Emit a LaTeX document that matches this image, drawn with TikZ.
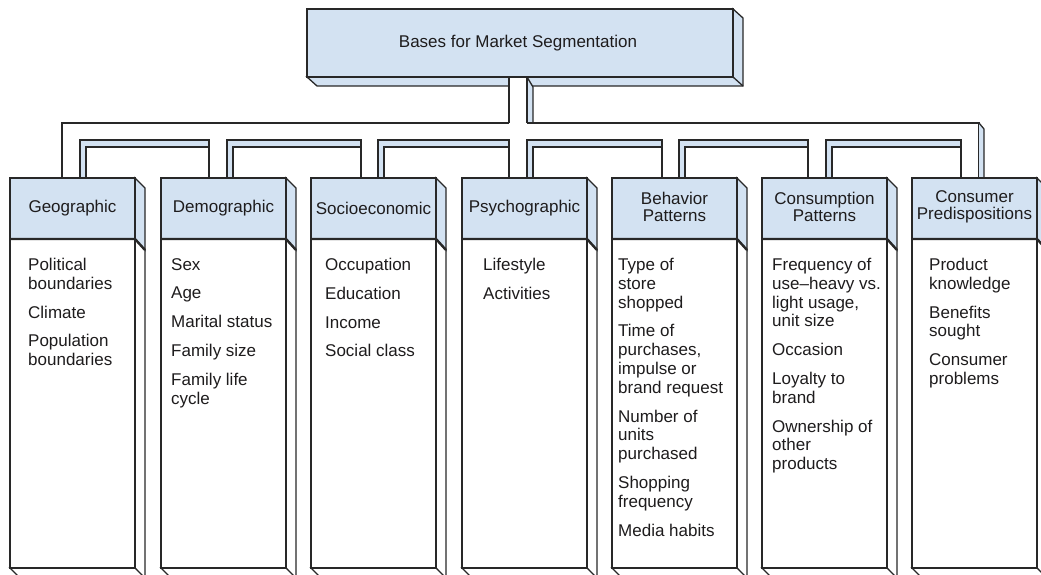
\documentclass[tikz,border=0pt]{standalone}
\usepackage{fontspec}
\setmainfont{Liberation Sans}
\definecolor{hb}{RGB}{211,226,242}
\definecolor{ln}{RGB}{40,40,40}
\definecolor{tx}{RGB}{30,28,29}
\begin{document}
\begin{tikzpicture}[x=1pt,y=-1pt,line join=miter,
  edge/.style={draw=ln,line width=1.3pt},
  sep/.style={draw=ln,line width=2.4pt},
  hdr/.style={align=center,inner sep=0pt,text=tx,font=\fontsize{17pt}{17pt}\selectfont},
  body/.style={anchor=north west,align=left,inner sep=0pt,text=tx,font=\fontsize{17pt}{18.8pt}\selectfont}]
\useasboundingbox (0,0) rectangle (1041,575);
\clip (0,0) rectangle (1041,575);
% top box: faces
\filldraw[fill=hb,edge] (307,77)--(317,86)--(743,86)--(743,18)--(733,9)--(733,77)--cycle;
\draw[edge] (733,77)--(743,86);
% stem
\fill[white] (509,77) rectangle (527,123);
\fill[hb] (527,77)--(533,87)--(533,123)--(527,123)--cycle;
\draw[edge] (509,77)--(509,123);
\draw[edge] (527,77)--(527,123);
\draw[edge] (527,77)--(533,87)--(533,123);
% top box front
\filldraw[fill=hb,edge] (307,9) rectangle (733,77);
\node[hdr] (root) at (518,43) {Bases for Market Segmentation};
% outer frame
\draw[edge] (62,178)--(62,123)--(509,123);
\draw[edge] (527,123)--(979,123)--(979,178);
\filldraw[fill=hb,edge] (979,123)--(984,129)--(984,178)--(979,178);
% arches
\foreach \a/\b in {80/209,227/361,378/509,527/662,679/808,826/961}{
  \fill[hb] (\a,178)--(\a,140)--(\b,140)--(\b,147)--(\a+6,147)--(\a+6,178)--cycle;
  \draw[edge] (\a,178)--(\a,140)--(\b,140)--(\b,178);
  \draw[edge] (\a+6,178)--(\a+6,147)--(\b,147);
}
% boxes
\foreach \L in {10,161,311,462,612,762,912}{
  \pgfmathsetmacro\R{\L+125}
  \filldraw[fill=hb,edge] (\R,178)--(\R+10,188)--(\R+10,250)--(\R,239)--cycle;
  \filldraw[fill=white,edge] (\R,239)--(\R+10,250)--(\R+10,580)--(\R,568)--cycle;
  \filldraw[fill=white,edge] (\L,568)--(\R,568)--(\R+10,578)--(\L+10,578)--cycle;
  \filldraw[fill=hb,edge] (\L,178) rectangle (\R,239);
  \filldraw[fill=white,edge] (\L,239) rectangle (\R,568);
  \draw[sep] (\L,239)--(\R,239)--(\R+10,250);
}
% headers
\node[hdr] (h1) at (72.5,208) {Geographic};
\node[hdr] (h2) at (223.5,208) {Demographic};
\node[hdr] (h3) at (373.5,208) {Socioeconomic};
\node[hdr] (h4) at (524.5,208) {Psychographic};
\node[hdr] (h5) at (674.5,207) {Behavior\\Patterns};
\node[hdr] (h6) at (824.5,207) {Consumption\\Patterns};
\node[hdr] (h7) at (974.5,207) {Consumer\\Predispositions};
% bodies
\node[body] (b1) at (28,258) {Political\\boundaries\\[10pt]Climate\\[10pt]Population\\boundaries};
\node[body] (b2) at (171,258) {Sex\\[10pt]Age\\[10pt]Marital status\\[10pt]Family size\\[10pt]Family life\\cycle};
\node[body] (b3) at (325,258) {Occupation\\[10pt]Education\\[10pt]Income\\[10pt]Social class};
\node[body] (b4) at (483,258) {Lifestyle\\[10pt]Activities};
\node[body] (b5) at (618,258) {Type of\\store\\shopped\\[10pt]Time of\\purchases,\\impulse or\\brand request\\[10pt]Number of\\units\\purchased\\[10pt]Shopping\\frequency\\[10pt]Media habits};
\node[body] (b6) at (772,258) {Frequency of\\use–heavy vs.\\light usage,\\unit size\\[10pt]Occasion\\[10pt]Loyalty to\\brand\\[10pt]Ownership of\\other\\products};
\node[body] (b7) at (929,258) {Product\\knowledge\\[10pt]Benefits\\sought\\[10pt]Consumer\\problems};
\end{tikzpicture}
\end{document}
